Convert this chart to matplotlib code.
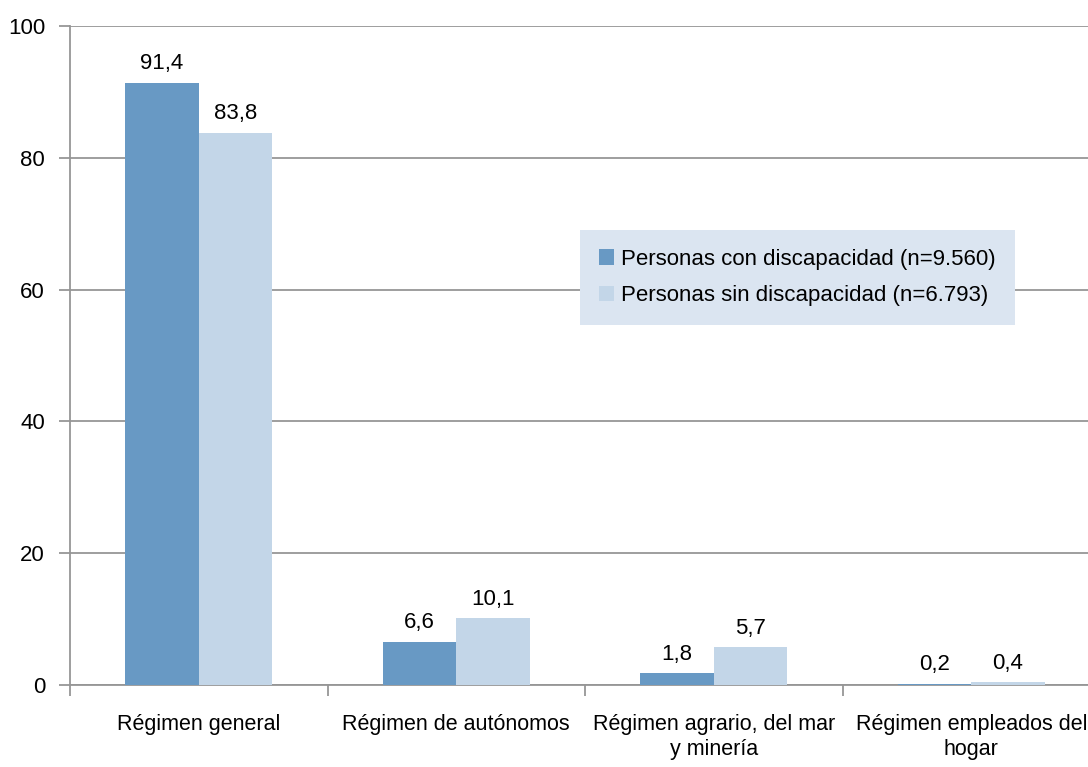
import matplotlib.pyplot as plt
import numpy as np

plt.rcParams['font.family'] = ['Liberation Sans', 'DejaVu Sans']

# data -------------------------------------------
categories = ['Régimen general', 'Régimen de autónomos',
              'Régimen agrario, del mar\ny minería', 'Régimen empleados del\nhogar']
con_disc = [91.4, 6.6, 1.8, 0.2]
sin_disc = [83.8, 10.1, 5.7, 0.4]
series_names = ['Personas con discapacidad (n=9.560)',
                'Personas sin discapacidad (n=6.793)']
yticks = [0, 20, 40, 60, 80, 100]

dark = '#6899c4'
light = '#c3d6e8'
grid = '#969696'

fig = plt.figure(figsize=(10.88, 7.67), dpi=100)
ax = fig.add_axes([70 / 1088, 82 / 767, 1030 / 1088, 659 / 767])

x = np.arange(len(categories))
w = 0.285
b1 = ax.bar(x - w / 2, con_disc, w, color=dark, label=series_names[0], zorder=3)
b2 = ax.bar(x + w / 2, sin_disc, w, color=light, label=series_names[1], zorder=3)

for bars, vals in ((b1, con_disc), (b2, sin_disc)):
    for r, v in zip(bars, vals):
        ax.annotate(f'{v:.1f}'.replace('.', ','), (r.get_x() + r.get_width() / 2, v),
                    xytext=(0, 6), textcoords='offset points',
                    ha='center', va='bottom', fontsize=16)

ax.set_xlim(-0.5, len(categories) - 0.5)
ax.set_ylim(0, 100)
ax.set_yticks(yticks)
ax.set_yticklabels([str(t) for t in yticks], fontsize=16)
ax.yaxis.grid(True, color=grid, linewidth=1.3, zorder=0)

# category labels centered, tick marks on the boundaries
ax.set_xticks(np.arange(len(categories) + 1) - 0.5)
ax.set_xticklabels([])
ax.set_xticks(x, minor=True)
ax.set_xticklabels(categories, minor=True, fontsize=15.5, linespacing=1.25)
ax.tick_params(axis='x', which='minor', length=0, pad=21)
ax.tick_params(axis='x', which='major', length=8, width=1.3, color=grid)
ax.tick_params(axis='y', length=8, width=1.3, color=grid, pad=10)

for s in ('top', 'right'):
    ax.spines[s].set_visible(False)
for s in ('left', 'bottom'):
    ax.spines[s].set_color(grid)
    ax.spines[s].set_linewidth(1.3)
    ax.spines[s].set_zorder(2)

leg = ax.legend(loc='upper left', bbox_to_anchor=(580 / 1088, 1 - 230 / 767),
                bbox_transform=fig.transFigure, fontsize=16,
                handlelength=0.7, handleheight=0.7, handletextpad=0.3,
                borderpad=0.85, labelspacing=0.7, borderaxespad=0,
                fancybox=False, frameon=True)
leg.get_frame().set_facecolor('#dbe5f1')
leg.get_frame().set_edgecolor('none')
leg.get_frame().set_alpha(1)
leg.set_zorder(5)

fig.savefig('out.png', dpi=100)
